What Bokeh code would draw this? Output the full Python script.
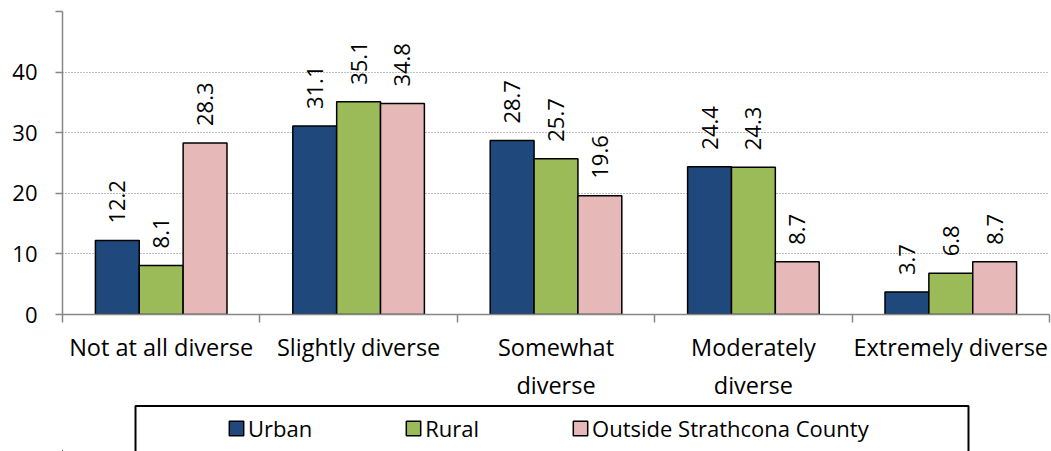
from math import pi
from bokeh.plotting import figure
from bokeh.layouts import column
from bokeh.models import (ColumnDataSource, FixedTicker, Legend, LegendItem, Range1d,
                          BoxAnnotation)
from bokeh.transform import dodge
from bokeh.core.properties import value
from bokeh.embed import file_html
from bokeh.resources import INLINE

categories = ["Not at all diverse", "Slightly diverse", "Somewhat diverse",
              "Moderately diverse", "Extremely diverse"]
tick_labels = ["Not at all diverse", "Slightly diverse", "Somewhat\ndiverse",
               "Moderately\ndiverse", "Extremely diverse"]
urban = [12.2, 31.1, 28.7, 24.4, 3.7]
rural = [8.1, 35.1, 25.7, 24.3, 6.8]
outside = [28.3, 34.8, 19.6, 8.7, 8.7]
series_names = ["Urban", "Rural", "Outside Strathcona County"]
colors = ["#1F497D", "#9BBB59", "#E6B9B8"]
y_ticks = [0, 10, 20, 30, 40, 50]

FONT = "Open Sans"
FS = "22px"
W = 1051
H1 = 404
H2 = 47

centers = [i + 0.5 for i in range(len(categories))]
src = ColumnDataSource(dict(
    x=centers, urban=urban, rural=rural, outside=outside,
    urban_t=[f"{v:.1f}" for v in urban],
    rural_t=[f"{v:.1f}" for v in rural],
    outside_t=[f"{v:.1f}" for v in outside],
))

p = figure(width=W, height=H1, output_backend="svg", toolbar_location=None,
           x_range=Range1d(0, len(categories)), y_range=Range1d(0, 50),
           min_border_left=62, min_border_right=2, min_border_top=11,
           min_border_bottom=H1 - 314)
p.outline_line_color = None
p.background_fill_color = "white"
p.border_fill_color = "white"

bw = 0.2222
offsets = [-bw, 0.0, bw]
fields = ["urban", "rural", "outside"]
for f, off, c in zip(fields, offsets, colors):
    p.vbar(x=dodge("x", off, range=p.x_range), top=f, width=bw, source=src,
           fill_color=c, line_color="black", line_width=1.5)
    p.text(x=dodge("x", off, range=p.x_range), y=f, text=f + "_t", source=src,
           angle=pi / 2, text_align="left", text_baseline="middle",
           y_offset=-17, text_font=value(FONT), text_font_size=FS,
           text_color="black")

# y axis
p.yaxis.ticker = FixedTicker(ticks=y_ticks, minor_ticks=[])
p.yaxis.major_label_overrides = {50: ""}
p.yaxis.axis_line_color = "#868686"
p.yaxis.axis_line_width = 1.5
p.yaxis.major_tick_line_color = "#868686"
p.yaxis.major_tick_line_width = 1.5
p.yaxis.major_tick_out = 7
p.yaxis.major_tick_in = 0
p.yaxis.major_label_standoff = 18
p.yaxis.major_label_text_font = FONT
p.yaxis.major_label_text_font_size = FS
p.yaxis.major_label_text_color = "black"

# x axis
p.xaxis.ticker = FixedTicker(ticks=centers, minor_ticks=list(range(len(categories) + 1)))
p.xaxis.major_label_overrides = {c: t for c, t in zip(centers, tick_labels)}
p.xaxis.axis_line_color = "#868686"
p.xaxis.axis_line_width = 1.5
p.xaxis.major_tick_line_color = None
p.xaxis.major_tick_out = 0
p.xaxis.major_tick_in = 0
p.xaxis.minor_tick_line_color = "#868686"
p.xaxis.minor_tick_line_width = 1.5
p.xaxis.minor_tick_out = 8
p.xaxis.minor_tick_in = 0
p.xaxis.major_label_standoff = 8
p.xaxis.major_label_text_font = FONT
p.xaxis.major_label_text_font_size = "23.5px"
p.xaxis.major_label_text_color = "black"

p.xgrid.grid_line_color = None
p.ygrid.grid_line_color = "#7f7f7f"
p.ygrid.grid_line_dash = "1 2"
p.ygrid.grid_line_width = 1.2

# legend panel (its series renderers sit outside the visible ranges; only swatches show)
p2 = figure(width=W, height=H2, output_backend="svg", toolbar_location=None,
            x_range=Range1d(100, 101), y_range=Range1d(100, 101),
            x_axis_location=None, y_axis_location=None,
            min_border_left=0, min_border_right=0, min_border_top=0, min_border_bottom=0)
p2.outline_line_color = None
p2.xgrid.grid_line_color = None
p2.ygrid.grid_line_color = None
p2.background_fill_color = "white"
p2.border_fill_color = "white"

leg_renderers = []
for f, c in zip(fields, colors):
    r = p2.vbar(x="x", top=f, width=bw, source=src, fill_color=c,
                line_color="black", line_width=1.5)
    leg_renderers.append(r)

legend = Legend(items=[LegendItem(label=n, renderers=[r], index=0)
                       for n, r in zip(series_names, leg_renderers)],
                location=(165, 8), orientation="horizontal",
                border_line_color=None, background_fill_alpha=0,
                padding=0, margin=0, spacing=92, label_standoff=3,
                glyph_width=18, glyph_height=18,
                label_text_font=FONT, label_text_font_size=FS,
                label_text_color="black")
p2.add_layout(legend)

box = BoxAnnotation(left=135, right=968, top=1.5, bottom=H2 + 30,
                    left_units="canvas", right_units="canvas",
                    top_units="canvas", bottom_units="canvas",
                    fill_alpha=0, line_color="black", line_alpha=1.0, line_width=2,
                    level="overlay")
p2.add_layout(box)

layout = column(p, p2, spacing=0)
open("out.html", "w").write(file_html(layout, INLINE))
